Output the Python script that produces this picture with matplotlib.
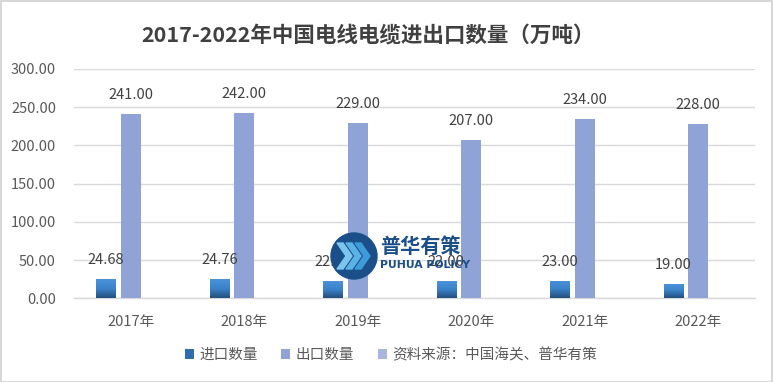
import matplotlib
matplotlib.use('Agg')
import matplotlib.pyplot as plt
import numpy as np
from matplotlib.patches import Rectangle, Circle, Polygon
from matplotlib.colors import LinearSegmentedColormap
from matplotlib.transforms import IdentityTransform

plt.rcParams['font.family'] = ['Noto Sans CJK SC', 'DejaVu Sans']

years = ['2017年', '2018年', '2019年', '2020年', '2021年', '2022年']
import_vals = [24.68, 24.76, 22.00, 22.00, 23.00, 19.00]
export_vals = [241.00, 242.00, 229.00, 207.00, 234.00, 228.00]
source_vals = [0, 0, 0, 0, 0, 0]
series_names = ['进口数量', '出口数量', '资料来源：中国海关、普华有策']
yticks = [0, 50, 100, 150, 200, 250, 300]
title = '2017-2022年中国电线电缆进出口数量（万吨）'

W, H = 773, 382
fig = plt.figure(figsize=(W / 100, H / 100), dpi=100)
fig.patch.set_facecolor('white')
ax = fig.add_axes([74 / W, 83.7 / H, (755 - 74) / W, (313 - 83.7) / H])

x = np.arange(len(years))
w = 0.172
off = 0.22
b1 = ax.bar(x - off, import_vals, w, color='#2F6DAE', label=series_names[0], zorder=3)
b2 = ax.bar(x, export_vals, w, color='#8FA3D6', label=series_names[1], zorder=3)
b3 = ax.bar(x + off, source_vals, w, color='#A9B6DD', label=series_names[2], zorder=3)

# gradient fill for import bars
cmap = LinearSegmentedColormap.from_list('g', ['#234F7D', '#3B82C8', '#4A93DA'])
grad = np.linspace(0, 1, 100).reshape(-1, 1)
for bar in b1:
    x0, y0 = bar.get_x(), bar.get_y()
    bw, bh = bar.get_width(), bar.get_height()
    im = ax.imshow(grad, extent=[x0, x0 + bw, y0, y0 + bh], origin='lower',
                   aspect='auto', cmap=cmap, zorder=3.5)
    im.set_clip_path(bar)

for xi, v in zip(x - off, import_vals):
    ax.annotate(f'{v:.2f}', (xi, v), xytext=(0, 13.7), textcoords='offset points',
                ha='center', va='center', fontsize=10.5, color='#404040', zorder=5)
for xi, v in zip(x, export_vals):
    ax.annotate(f'{v:.2f}', (xi, v), xytext=(0, 13.7), textcoords='offset points',
                ha='center', va='center', fontsize=10.5, color='#404040', zorder=5)

ax.set_xlim(-0.5, len(years) - 0.5)
ax.set_ylim(0, 300)
ax.set_yticks(yticks)
ax.set_yticklabels([f'{t:.2f}' for t in yticks])
ax.set_xticks(x)
ax.set_xticklabels(years)
ax.tick_params(axis='both', length=0, labelsize=10.5, labelcolor='#595959')
ax.tick_params(axis='y', pad=13)
ax.tick_params(axis='x', pad=12)
ax.grid(axis='y', color='#D9D9D9', lw=1, zorder=0)
ax.set_axisbelow(True)
for s in ['left', 'right', 'top']:
    ax.spines[s].set_visible(False)
ax.spines['bottom'].set_color('#D9D9D9')
ax.spines['bottom'].set_linewidth(1)

fig.text(368 / W, 1 - 35 / H, title, ha='center', va='center', fontsize=15.5,
         fontweight='bold', color='#404040')

leg = fig.legend(handles=[b1, b2, b3], labels=series_names, loc='center',
                 bbox_to_anchor=(391 / W, 27 / H), ncol=3, frameon=False,
                 fontsize=10.5, handlelength=0.6, handleheight=0.6,
                 handletextpad=0.4, columnspacing=1.6, labelcolor='#595959')

# watermark logo (pixel coordinates, origin bottom-left)
tr = IdentityTransform()
cx, cy, r = 354, H - 256, 23
fig.add_artist(Circle((cx, cy), r, transform=tr, color='#1B4F8A', zorder=10))
for i, c in enumerate(['#7CC6EE', '#5AB2E6', '#3D9BDA']):
    x0 = cx - 17 + i * 9
    h, t, hh = 9, 6, 13
    pts = [(x0, cy + hh), (x0 + t, cy + hh), (x0 + t + h, cy), (x0 + t, cy - hh),
           (x0, cy - hh), (x0 + h, cy)]
    fig.add_artist(Polygon(pts, closed=True, transform=tr, color=c, zorder=11))
fig.text(380 / W, 1 - 246 / H, '普华有策', ha='left', va='center', fontsize=14.5,
         fontweight='bold', color='#1B4F8A', zorder=12)
fig.text(380 / W, 1 - 265 / H, 'PUHUA POLICY', ha='left', va='center', fontsize=7.8,
         fontweight='bold', color='#1B4F8A', zorder=12, family=['DejaVu Sans'])

fig.add_artist(Rectangle((0.5, 0.5), W - 1.5, H - 1.5, transform=tr, fill=False,
                         edgecolor='#D0D0D0', lw=1.2, zorder=20))

fig.savefig('out.png', dpi=100)
